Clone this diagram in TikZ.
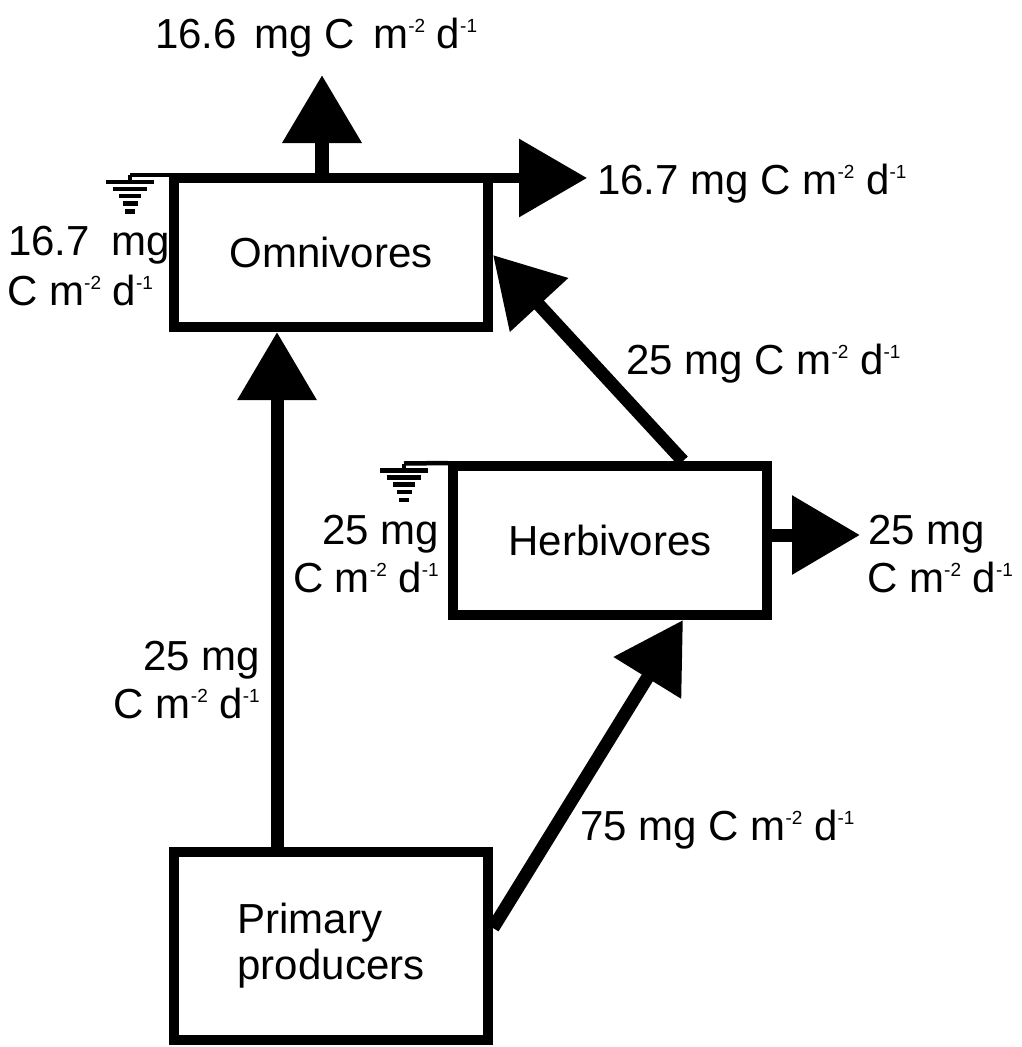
\documentclass[tikz,border=0pt]{standalone}
\usepackage{fontspec}
\setmainfont{Liberation Sans}
\usetikzlibrary{arrows.meta}
\newcommand\spw[1]{\raisebox{16pt}{\fontsize{19}{19}\selectfont #1}}
\begin{document}
\begin{tikzpicture}[x=1pt,y=-1pt,
  box/.style={draw, line width=10pt, minimum width=314pt, minimum height=149pt, inner sep=0pt, font=\fontsize{42}{46}\selectfont},
  lbl/.style={inner sep=0pt, font=\fontsize{42}{48}\selectfont},
  flow/.style={line width=13pt, -{Triangle[length=68pt,width=76pt]}},
  gnd/.style={line width=4.5pt},
  ground/.pic={
    \draw[gnd] (0,0) -- (0,7);
    \draw[gnd] (-24,7) -- (24,7);
    \draw[gnd] (-17,14) -- (17,14);
    \draw[gnd] (-11,21) -- (11,21);
    \draw[gnd] (-7.5,28.5) -- (7.5,28.5);
    \draw[gnd] (-5,36.5) -- (5,36.5);
  }]
\useasboundingbox (0,0) rectangle (1021,1047);
\fill[white] (0,0) rectangle (1021,1047);

% boxes
\node[box] (omni) at (331,252.5) {Omnivores};
\node[box] (herb) at (610,540.5) {Herbivores};
\node[box, minimum height=188pt, align=left] (prim) at (331,946) {Primary\\producers};

% outflow end points
\coordinate (outTop) at (322,75);
\coordinate (outRight) at (587,178);
\coordinate (outHerb) at (860,535);

% flows
\draw[flow, line width=14pt] ([xshift=-9pt]omni.north) -- (outTop);
\draw[flow, line width=10pt] ([xshift=-5pt,yshift=-5pt]omni.north east) -- (outRight);
\draw[flow] (herb.east |- outHerb) -- (outHerb);
\draw[flow] ([xshift=-54pt]prim.north) -- ([xshift=-54pt]omni.south);
\draw[flow] ([yshift=18pt]prim.east) -- ([xshift=73pt]herb.south);
\draw[flow] ([xshift=73pt]herb.north) -- ([yshift=-2.5pt]omni.east);

% ground symbols
\coordinate (g1) at (130,175);
\coordinate (g2) at (404,463.5);
\draw[gnd] (g1) -- ([yshift=-2pt]omni.north west);
\draw[gnd] (g2) -- ([yshift=-2pt]herb.north west);
\pic at (g1) {ground};
\pic at (g2) {ground};

% labels
\node[lbl, anchor=base west] (tA) at (155,48) {16.6\hspace{18pt}mg C\hspace{18pt}m\spw{-2} d\spw{-1}};
\node[lbl, anchor=base west] (tB) at (597,194) {16.7 mg C m\spw{-2} d\spw{-1}};
\node[lbl, anchor=base west] (tC1) at (8,255) {16.7\hspace{22pt}mg};
\node[lbl, anchor=base west] (tC2) at (7,305) {C m\spw{-2} d\spw{-1}};
\node[lbl, anchor=base west] (tD) at (626,374) {25 mg C m\spw{-2} d\spw{-1}};
\node[lbl, anchor=base east] (tE1) at (439,544) {25 mg};
\node[lbl, anchor=base east] (tE2) at (439,592) {C m\spw{-2} d\spw{-1}};
\node[lbl, anchor=base west] (tF1) at (868,544) {25 mg};
\node[lbl, anchor=base west] (tF2) at (867,592) {C m\spw{-2} d\spw{-1}};
\node[lbl, anchor=base east] (tG1) at (260,670) {25 mg};
\node[lbl, anchor=base east] (tG2) at (260,718) {C m\spw{-2} d\spw{-1}};
\node[lbl, anchor=base west] (tH) at (580,840) {75 mg C m\spw{-2} d\spw{-1}};
\end{tikzpicture}
\end{document}
